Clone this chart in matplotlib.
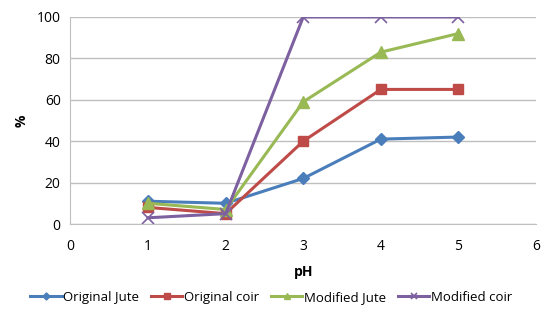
import matplotlib
matplotlib.use("Agg")
import matplotlib.pyplot as plt

plt.rcParams['font.family'] = ['Open Sans', 'DejaVu Sans']

ph = [1, 2, 3, 4, 5]
original_jute = [11, 10, 22, 41, 42]
original_coir = [8, 5, 40, 65, 65]
modified_jute = [10, 7, 59, 83, 92]
modified_coir = [3, 5, 100, 100, 100]

fig = plt.figure(figsize=(5.42, 3.2), dpi=100)
ax = fig.add_axes([0.13, 0.30, 0.859, 0.647])

ax.plot(ph, original_jute, color='#4a7ebb', marker='D', markersize=6, lw=2.2, label='Original Jute')
ax.plot(ph, original_coir, color='#be4b48', marker='s', markersize=7, lw=2.2, label='Original coir')
ax.plot(ph, modified_jute, color='#98b954', marker='^', markersize=8, lw=2.2, label='Modified Jute')
ax.plot(ph, modified_coir, color='#7d60a0', marker='x', markersize=8, mew=1.2, lw=2.2, label='Modified coir')

ax.set_xlim(0, 6)
ax.set_ylim(0, 100)
ax.set_xticks(range(0, 7))
ax.set_yticks(range(0, 101, 20))
ax.yaxis.grid(True, color='#bfbfbf', lw=1)
ax.set_axisbelow(True)
for s in ['top', 'right']:
    ax.spines[s].set_visible(False)
for s in ['left', 'bottom']:
    ax.spines[s].set_color('#bfbfbf')
ax.tick_params(axis='y', length=0, labelsize=10, pad=7)
ax.tick_params(axis='x', length=0, labelsize=10, pad=11)
ax.set_xlabel('pH', fontsize=10, fontweight='bold', labelpad=8)
ax.set_ylabel('%', fontsize=10, fontweight='bold', labelpad=6)

fig.legend(loc='center', bbox_to_anchor=(0.5, 0.07), ncol=4, frameon=False,
           fontsize=9.5, markerscale=0.6, handlelength=2.4, handletextpad=0.1,
           columnspacing=0.9)

fig.savefig('out.png', dpi=100)
